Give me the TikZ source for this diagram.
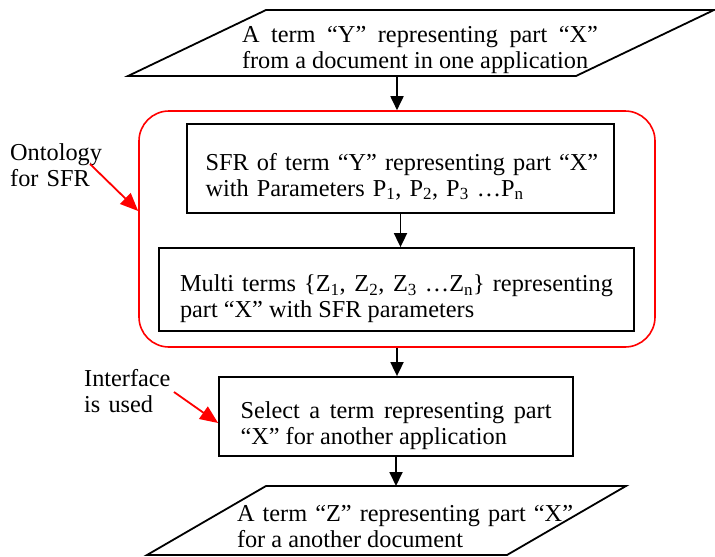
\documentclass[tikz,border=0pt]{standalone}
\usepackage{fontspec}
\setmainfont{Liberation Serif}
\usetikzlibrary{arrows.meta}
\begin{document}
\begin{tikzpicture}[x=1pt,y=-1pt,
  every node/.style={font=\fontsize{24.3}{25.5}\selectfont},
  body/.style={inner sep=0pt,
    execute at begin node={\rule{0pt}{37.5pt}},
    execute at end node={\rule[-7.5pt]{0pt}{7.5pt}}},
  stepbox/.style={body, draw, line width=1.8pt, rectangle},
  iospan/.style={rectangle, inner sep=0pt, outer sep=0pt},
  ioline/.style={line width=1.8pt, line join=miter},
  flow/.style={line width=1.8pt, -{Triangle[length=14pt,width=13pt]}},
  note/.style={red, line width=1.8pt, -{Triangle[length=18pt,width=15pt]}},
  group/.style={draw=red, line width=1.6pt, rounded corners=30pt,
    minimum width=516pt, minimum height=236pt, inner sep=0pt},
]
\useasboundingbox (0,0) rectangle (715,557);

% input document (parallelogram drawn over the span of its node)
\node[iospan, minimum width=586pt, minimum height=66pt] (srcShape) at (421,43) {};
\draw[ioline] (srcShape.south west) -- ([xshift=-138pt]srcShape.south east)
  -- (srcShape.north east) -- ([xshift=138pt]srcShape.north west) -- cycle;
\node[body, text width=356pt, align=justify] (srcText) at (420,40.5)
  {A term “Y” representing part “X”\linebreak from a document in one application};

% ontology group
\node[group] (ont) at (397,229) {};
\node[stepbox, minimum width=427pt, minimum height=89pt, text width=390pt, align=left]
  (sfr) at (400.5,168.5)
  {\mbox{SFR of term “Y” representing part “X”}\\with Parameters P\textsubscript{1}, P\textsubscript{2}, P\textsubscript{3} …P\textsubscript{n}};
\node[stepbox, minimum width=475pt, minimum height=83pt, text width=433pt, align=justify]
  (multi) at (396.5,289.5)
  {Multi terms \{Z\textsubscript{1}, Z\textsubscript{2}, Z\textsubscript{3} …Z\textsubscript{n}\} representing\linebreak part “X” with SFR parameters};

% selection through the interface
\node[stepbox, minimum width=354pt, minimum height=79pt, text width=311pt, align=justify]
  (sel) at (396,416.5)
  {Select a term representing part\linebreak “X” for another application};

% output document
\node[iospan, minimum width=479pt, minimum height=69pt] (outShape) at (386.5,520.5) {};
\draw[ioline] (outShape.south west) -- ([xshift=-119pt]outShape.south east)
  -- (outShape.north east) -- ([xshift=119pt]outShape.north west) -- cycle;
\node[body, text width=336pt, align=justify] (outText) at (405,519.5)
  {A term “Z” representing part “X”\linebreak for a another document};

% side notes
\node[body, anchor=west, text width=110pt, align=left] (ontoLbl) at (10,158.5) {Ontology\\for SFR};
\node[body, anchor=west, text width=110pt, align=left] (ifLbl) at (84,384.5) {Interface\\is used};

% flow
\draw[flow] (ont.north |- srcShape.south) -- (ont.north);
\draw[flow] (sfr.south) -- (sfr.south |- multi.north);
\draw[flow] (ont.south) -- (ont.south |- sel.north);
\draw[flow] (sel.south) -- (sel.south |- outShape.north);

% note pointers
\coordinate (ontoTail) at (90,164);
\coordinate (ifTail) at (174,392);
\draw[note] (ontoTail) -- ([yshift=18pt]ont.west);
\draw[note] (ifTail) -- ([yshift=-6.5pt]sel.west);
\end{tikzpicture}
\end{document}
